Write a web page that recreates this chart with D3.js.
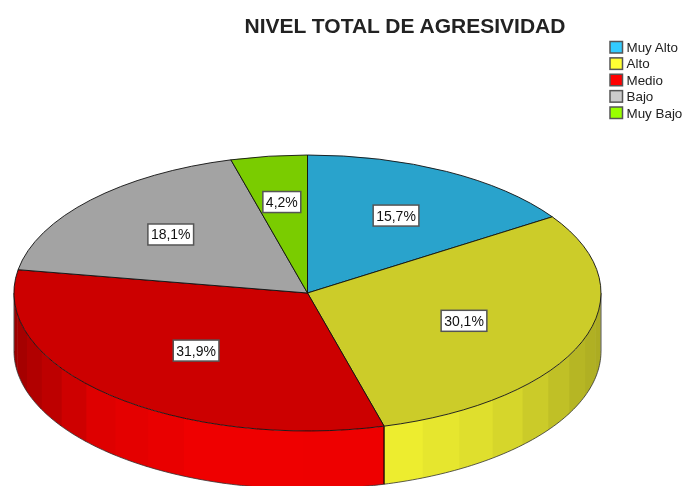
<!DOCTYPE html>
<html><head><meta charset="utf-8">
<style>html,body{margin:0;padding:0;background:#fff}svg{display:block;filter:blur(0.4px)}text{font-family:"Liberation Sans",Arial,sans-serif}</style>
<script src="https://cdn.jsdelivr.net/npm/d3@7/dist/d3.min.js"></script>
</head><body><script>
const categories = ["Muy Alto","Alto","Medio","Bajo","Muy Bajo"];
const values = [15.7,30.1,31.9,18.1,4.2];
const valueLabels = ["15,7%","30,1%","31,9%","18,1%","4,2%"];
const baseColors = ["#33CCFF","#FFFF33","#FF0000","#CCCCCC","#99FF00"];
const titleText = "NIVEL TOTAL DE AGRESIVIDAD";
const labelRadial = [0.637,0.57,0.564,0.63,0.665];

const W=686,H=486,cx=307.5,cy=293,rx=293.5,ry=138,depth=58;
const svg=d3.select("body").append("svg").attr("width",W).attr("height",H);
const x=d3.scaleLinear().domain([-1,1]).range([cx-rx,cx+rx]);
const y=d3.scaleLinear().domain([-1,1]).range([cy-ry,cy+ry]);
const pie=d3.pie().sort(null).value(d=>d);
const arcs=pie(values);
const shade=(c,k)=>{const r=d3.rgb(c);return d3.rgb(r.r*k,r.g*k,r.b*k).formatHex();};
const deg=Math.PI/180;

// side wall facets (front half only), 8 degree bands
const step=8*deg, peak=arcs[1].endAngle;
const bright=d3.scaleLinear()
  .domain([90,110,126,141,160,200,225,241,258,270])
  .range([.66,.70,.78,.86,.93,.94,.87,.74,.64,.6]);
const pt=(a,dy)=>[x(Math.sin(a)),y(-Math.cos(a))+dy];
const wall=svg.append("g");
const line=d3.line();
arcs.forEach((d,i)=>{
  const a0=Math.max(d.startAngle,Math.PI/2), a1=Math.min(d.endAngle,Math.PI*1.5);
  if(a1<=a0) return;
  const n0=Math.floor((a0-peak)/step), n1=Math.ceil((a1-peak)/step);
  d3.range(n0,n1).forEach(n=>{
    const b0=Math.max(a0,peak+n*step), b1=Math.min(a1,peak+(n+1)*step);
    if(b1<=b0) return;
    const b1x=Math.min(a1,b1+0.6*deg);
    const as=d3.range(0,9).map(t=>b0+(b1x-b0)*t/8);
    const pts=as.map(a=>pt(a,0)).concat(as.slice().reverse().map(a=>pt(a,depth)));
    const col=shade(baseColors[i],bright((b0+b1)/2/deg));
    wall.append("path").datum(n).attr("d",line(pts)+"Z").attr("fill",col);
  });
});
// wall outline: bottom edge and silhouette, slice edge
const as=d3.range(0,181).map(t=>Math.PI/2+t*deg);
wall.append("path").attr("d",line(as.map(a=>pt(a,depth)))).attr("fill","none").attr("stroke","#333").attr("stroke-width",0.8);
[Math.PI/2,Math.PI*1.5].forEach(a=>wall.append("path").attr("d",line([pt(a,0),pt(a,depth)])).attr("stroke","#555").attr("stroke-width",1).attr("fill","none"));
wall.append("path").attr("d",line([pt(peak,0),pt(peak,depth)])).attr("stroke","#000").attr("stroke-width",1.2);

// top
const arc=d3.arc().innerRadius(0).outerRadius(1);
svg.append("g").attr("transform",`translate(${cx},${cy}) scale(${rx},${ry})`)
 .selectAll("path").data(arcs).join("path")
 .attr("d",arc).attr("fill",(d,i)=>shade(baseColors[i],0.8))
 .attr("stroke","#111").attr("stroke-width",0.9).attr("vector-effect","non-scaling-stroke");

// value labels
const lab=svg.append("g");
arcs.forEach((d,i)=>{
  const m=(d.startAngle+d.endAngle)/2;
  const lx=x(Math.sin(m)*labelRadial[i]), ly=y(-Math.cos(m)*labelRadial[i]);
  const g=lab.append("g");
  const t=g.append("text").attr("x",lx).attr("y",ly+5).attr("text-anchor","middle").attr("font-size",14).attr("fill","#111").text(valueLabels[i]);
  const w=t.node().getComputedTextLength();
  g.insert("rect","text").attr("x",lx-w/2-3).attr("y",ly-10.5).attr("width",w+6).attr("height",21)
    .attr("fill","#fff").attr("stroke","#555").attr("stroke-width",1.5);
});

// title
svg.append("text").attr("x",405).attr("y",33).attr("text-anchor","middle").attr("font-size",21).attr("font-weight","bold").attr("fill","#222").text(titleText);

// legend
const ly=d3.scalePoint().domain(categories).range([47,112.5]);
const lg=svg.append("g").selectAll("g").data(categories).join("g").attr("transform",d=>`translate(0,${ly(d)})`);
lg.append("rect").attr("x",610).attr("y",-5.5).attr("width",12.5).attr("height",11.5).attr("fill",(d,i)=>baseColors[i]).attr("stroke","#555").attr("stroke-width",1.5);
lg.append("text").attr("x",626.5).attr("y",5).attr("font-size",13.4).attr("fill","#222").text(d=>d);
</script></body></html>
